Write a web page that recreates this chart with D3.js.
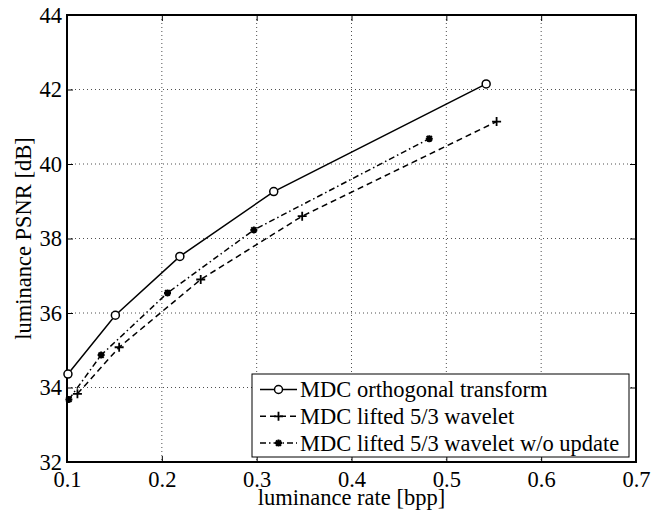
<!DOCTYPE html>
<html>
<head>
<meta charset="utf-8">
<style>
body{margin:0;background:#fff;}
svg{font-family:"Liberation Serif","Times New Roman",serif;}
.grid line{stroke:#222;stroke-width:0.8;stroke-dasharray:1,3;}
.axis path{display:none;}
.axis line{stroke:#000;stroke-width:1;}
.axis text{font-size:22.5px;fill:#000;font-family:"Liberation Serif",serif;}
.curve{fill:none;stroke:#000;stroke-width:1.5;}
.mark{fill:none;stroke:#000;stroke-width:1.5;}
</style>
</head>
<body>
<script src="https://d3js.org/d3.v7.min.js"></script>
<script>
// data
var seriesNames = ["MDC orthogonal transform", "MDC lifted 5/3 wavelet", "MDC lifted 5/3 wavelet w/o update"];
var orthoRate = [0.101, 0.151, 0.219, 0.318, 0.542];
var orthoPsnr = [34.36, 35.94, 37.52, 39.26, 42.15];
var liftRate = [0.111, 0.155, 0.241, 0.348, 0.553];
var liftPsnr = [33.83, 35.08, 36.90, 38.60, 41.14];
var noUpdRate = [0.102, 0.136, 0.206, 0.297, 0.482];
var noUpdPsnr = [33.68, 34.87, 36.54, 38.23, 40.68];
var xTicks = [0.1, 0.2, 0.3, 0.4, 0.5, 0.6, 0.7];
var yTicks = [32, 34, 36, 38, 40, 42, 44];

var W = 660, H = 514;
var L = 67, R = 636, T = 15, B = 462;

var x = d3.scaleLinear().domain([0.1, 0.7]).range([L, R]);
var y = d3.scaleLinear().domain([32, 44]).range([B, T]);

var svg = d3.select("body").append("svg").attr("width", W).attr("height", H);

//grid
var grid = svg.append("g").attr("class", "grid");
grid.selectAll(".gx").data(xTicks.slice(1, -1)).enter().append("line")
    .attr("x1", function(d){return x(d);}).attr("x2", function(d){return x(d);})
    .attr("y1", T).attr("y2", B);
grid.selectAll(".gy").data(yTicks.slice(1, -1)).enter().append("line")
    .attr("y1", function(d){return y(d);}).attr("y2", function(d){return y(d);})
    .attr("x1", L).attr("x2", R);

//axes, ticks pointing inwards
var fmt = function(d){return d3.format(".1f")(d);};
svg.append("g").attr("class", "axis").attr("transform", "translate(0," + B + ")")
    .call(d3.axisBottom(x).tickValues(xTicks).tickFormat(fmt).tickSizeInner(-6).tickSizeOuter(0).tickPadding(9));
svg.append("g").attr("class", "axis").attr("transform", "translate(0," + T + ")")
    .call(d3.axisTop(x).tickValues(xTicks).tickFormat("").tickSizeInner(-6).tickSizeOuter(0));
svg.append("g").attr("class", "axis").attr("transform", "translate(" + L + ",0)")
    .call(d3.axisLeft(y).tickValues(yTicks).tickSizeInner(-6).tickSizeOuter(0).tickPadding(5));
svg.append("g").attr("class", "axis").attr("transform", "translate(" + R + ",0)")
    .call(d3.axisRight(y).tickValues(yTicks).tickFormat("").tickSizeInner(-6).tickSizeOuter(0));

svg.append("rect").attr("x", L).attr("y", T).attr("width", R - L).attr("height", B - T)
    .attr("fill", "none").attr("stroke", "#000").attr("stroke-width", 2);

//series
var series = [
    {name: seriesNames[0], rate: orthoRate, psnr: orthoPsnr, dash: null, mark: "circle"},
    {name: seriesNames[1], rate: liftRate, psnr: liftPsnr, dash: "6,4", mark: "plus"},
    {name: seriesNames[2], rate: noUpdRate, psnr: noUpdPsnr, dash: "6,3,1.5,3", mark: "star"}
];
var line = d3.line().x(function(d){return x(d[0]);}).y(function(d){return y(d[1]);});

function drawMark(g, type){
    if (type == "circle") {
        g.append("circle").attr("r", 4).attr("class", "mark").style("fill", "#fff");
    } else if (type == "plus") {
        g.append("path").attr("class", "mark").attr("d", "M-4.5,0H4.5M0,-4.5V4.5").style("stroke-width", 1.8);
    } else {
        g.append("path").attr("class", "mark").attr("d", "M-3.5,0H3.5M0,-3.5V3.5M-2.6,-2.6L2.6,2.6M-2.6,2.6L2.6,-2.6")
            .style("stroke-width", 2);
    }
}

series.forEach(function(s){
    var pts = s.rate.map(function(r, i){return [r, s.psnr[i]];});
    svg.append("path").attr("class", "curve").attr("d", line(pts))
        .attr("stroke-dasharray", s.dash);
    pts.forEach(function(p){
        var g = svg.append("g").attr("transform", "translate(" + x(p[0]) + "," + y(p[1]) + ")");
        drawMark(g, s.mark);
    });
});

//legend
var lg = svg.append("g").attr("transform", "translate(252,374)");
lg.append("rect").attr("width", 377).attr("height", 83).attr("fill", "#fff").attr("stroke", "#000").attr("stroke-width", 1);
series.forEach(function(s, i){
    var cy = 15.5 + i * 26.8;
    lg.append("line").attr("x1", 8).attr("x2", 45).attr("y1", cy).attr("y2", cy)
        .attr("stroke", "#000").attr("stroke-width", 1.5).attr("stroke-dasharray", s.dash);
    var g = lg.append("g").attr("transform", "translate(26.5," + cy + ")");
    drawMark(g, s.mark);
    lg.append("text").attr("x", 48).attr("y", cy).attr("dy", "0.34em")
        .style("font-size", "22.5px").text(s.name);
});

//axis labels
svg.append("text").attr("x", (L + R) / 2).attr("y", 505).attr("text-anchor", "middle")
    .style("font-size", "22.5px").text("luminance rate [bpp]");
svg.append("text").attr("transform", "translate(30.5," + ((T + B) / 2) + ") rotate(-90)")
    .attr("text-anchor", "middle").style("font-size", "22.5px").text("luminance PSNR [dB]");
</script>
</body>
</html>
